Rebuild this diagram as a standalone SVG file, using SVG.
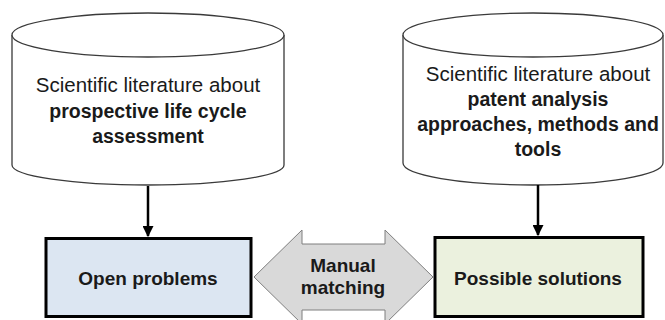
<svg xmlns="http://www.w3.org/2000/svg" width="665" height="320" viewBox="0 0 665 320">
<style>
.cyl{fill:#ffffff;stroke:#3a3a3a;stroke-width:1.3}
.box{stroke:#000000;stroke-width:3}
.t{font-family:"Liberation Sans",Arial,sans-serif;fill:#1a1a1a;text-anchor:middle}
.r{font-size:20.5px}
.b{font-size:19.5px;font-weight:bold}
.bl{font-size:19px;font-weight:bold}
.conn{stroke:#000000;stroke-width:2.5;fill:none}
</style>
<defs>
<marker id="ah" viewBox="0 0 10 10" refX="9" refY="5" markerWidth="4.4" markerHeight="4.4" orient="auto" markerUnits="strokeWidth">
<path d="M0,0 L10,5 L0,10 Z" fill="#000000"/>
</marker>
</defs>
<rect width="665" height="320" fill="#ffffff"/>
<g id="lit-lca">
<path class="cyl" d="M12,35 L12,165 A136,20 0 0 0 284,165 L284,35"/>
<ellipse class="cyl" cx="148" cy="35" rx="136" ry="22"/>
<text class="t r" x="148" y="92">Scientific literature about</text>
<text class="t b" x="148" y="118">prospective life cycle</text>
<text class="t b" x="148" y="143">assessment</text>
</g>
<g id="lit-patent">
<path class="cyl" d="M403,35 L403,163 A130,22 0 0 0 663,163 L663,35"/>
<ellipse class="cyl" cx="533" cy="35" rx="130" ry="22"/>
<text class="t r" x="538" y="81">Scientific literature about</text>
<text class="t b" x="538" y="106">patent analysis</text>
<text class="t b" x="538" y="131">approaches, methods and</text>
<text class="t b" x="538" y="156">tools</text>
</g>
<g id="open-problems">
<rect class="box" x="46" y="238.5" width="205" height="78" fill="#dce6f2"/>
<text class="t bl" x="148" y="285">Open problems</text>
</g>
<g id="possible-solutions">
<rect class="box" x="435" y="237.5" width="208" height="79" fill="#ebf1de"/>
<text class="t bl" x="538" y="285">Possible solutions</text>
</g>
<g id="manual-matching">
<path d="M254,277 L302,230 L302,244 L385,244 L385,230 L433,277 L385,324 L385,310 L302,310 L302,324 Z" fill="#d9d9d9" stroke="#7f7f7f" stroke-width="1"/>
<text class="t bl" x="343" y="272">Manual</text>
<text class="t bl" x="343" y="294">matching</text>
</g>
<g id="connectors">
<line class="conn" x1="148" y1="186" x2="148" y2="236" marker-end="url(#ah)"/>
<line class="conn" x1="538" y1="185" x2="538" y2="235" marker-end="url(#ah)"/>
</g>
</svg>
